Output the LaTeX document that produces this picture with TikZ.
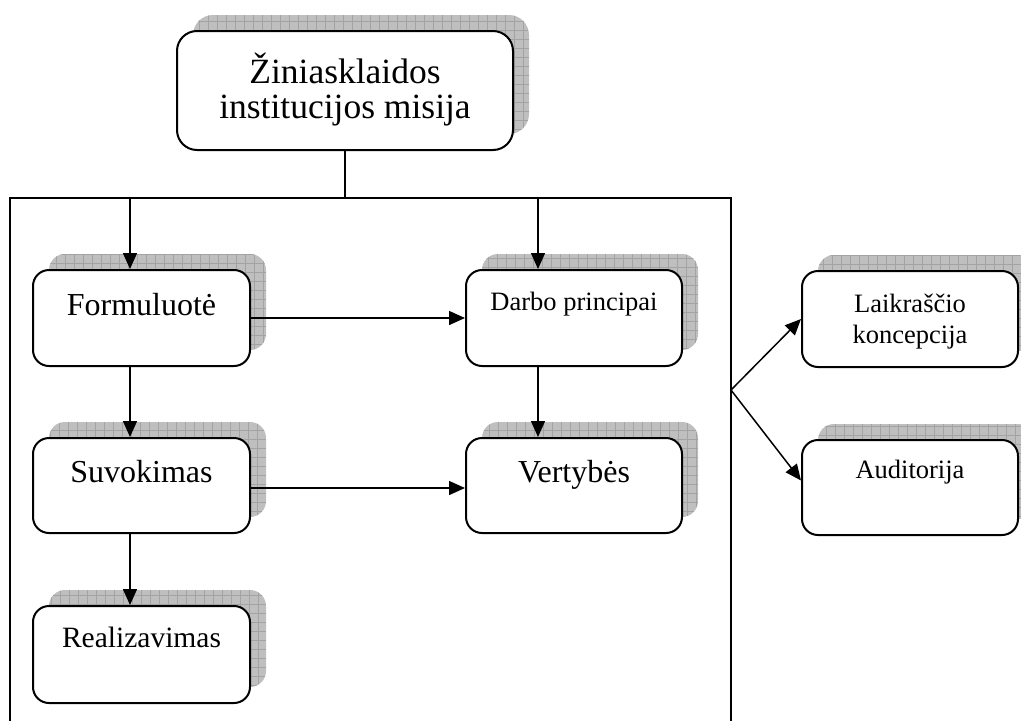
\documentclass[tikz,border=0pt]{standalone}
\usepackage{fontspec}
\setmainfont{Liberation Serif}
\usetikzlibrary{shadows,arrows.meta}

\tikzset{
  gridshadow/.style={
    drop shadow={shadow xshift=16pt, shadow yshift=16pt, opacity=1,
      fill=black!25, draw=none,
      path picture={\draw[black!36, line width=0.6pt, step=9pt]
        (path picture bounding box.south west) grid (path picture bounding box.north east);}}},
  box/.style={draw=black, line width=2pt, fill=white, rounded corners=16pt,
    inner sep=0pt, align=center, gridshadow},
  link/.style={line width=1.5pt},
  arr/.style={link, -{Triangle[length=16pt,width=14pt]}},
}

\begin{document}
\begin{tikzpicture}[x=1pt, y=-1pt]
\useasboundingbox (0,0) rectangle (1021,721);

% mission box (two lines: text height runs to the last baseline)
\node[box, rounded corners=20pt, minimum width=336pt, text height=87pt, text depth=32pt,
  font=\fontsize{35.5}{35}\selectfont] (top) at (345,90.5)
  {Žiniasklaidos\\institucijos misija};

% frame enclosing the mission's components
\coordinate (fbl) at (10,721);
\coordinate (ftl) at (10,198);
\coordinate (ftr) at (731,198);
\coordinate (fbr) at (731,721);
\draw[link] (fbl) -- (ftl) -- (ftr) -- (fbr);
\draw[link] (top.south) -- (top.south |- ftl);

% component boxes
\node[box, minimum width=217pt, text height=45pt, text depth=51pt,
  font=\fontsize{32}{36}\selectfont] (form) at (141.5,318) {Formuluotė};
\node[box, minimum width=216pt, text height=40pt, text depth=56pt,
  font=\fontsize{26.5}{31}\selectfont] (darbo) at (574,318) {Darbo principai};
\node[box, minimum width=217pt, text height=44pt, text depth=51pt,
  font=\fontsize{32}{36}\selectfont] (suvok) at (141.5,485.5) {Suvokimas};
\node[box, minimum width=216pt, text height=44pt, text depth=51pt,
  font=\fontsize{32}{36}\selectfont] (verty) at (574,485.5) {Vertybės};
\node[box, minimum width=217pt, text height=41pt, text depth=56pt,
  font=\fontsize{29.5}{34}\selectfont] (real) at (141.5,654.5) {Realizavimas};

% outputs on the right
\node[box, minimum width=216pt, text height=72pt, text depth=24pt,
  font=\fontsize{26.5}{31}\selectfont] (laik) at (910,319) {Laikraščio\\koncepcija};
\node[box, minimum width=216pt, text height=38pt, text depth=57pt,
  font=\fontsize{26.5}{31}\selectfont] (aud) at (910,487.5) {Auditorija};

% arrows
\coordinate (a1) at (130,198);
\coordinate (a2) at (538,198);
\coordinate (fork) at (731,390);
\draw[arr] (a1) -- (a1 |- form.north);
\draw[arr] (a2) -- (a2 |- darbo.north);
\draw[arr] (form.east) -- (darbo.west);
\draw[arr] ([yshift=-2.5pt]suvok.east) -- ([yshift=-2.5pt]verty.west);
\draw[arr] (form.south -| a1) -- (suvok.north -| a1);
\draw[arr] (suvok.south -| a1) -- (real.north -| a1);
\draw[arr] (darbo.south -| a2) -- (verty.north -| a2);
\draw[arr] (fork) -- (laik.west);
\draw[arr] (fork) -- ([yshift=7pt]aud.west);
\end{tikzpicture}
\end{document}
